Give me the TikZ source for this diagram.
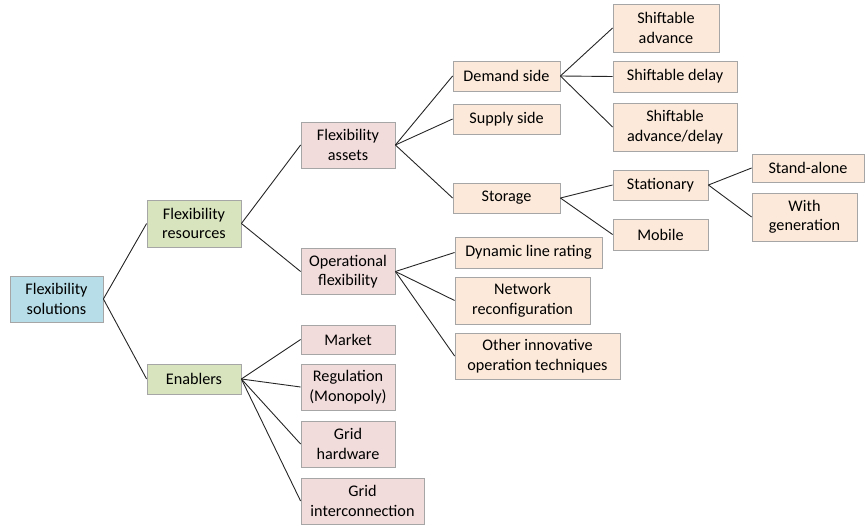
\documentclass[tikz,border=0pt]{standalone}
\usepackage{fontspec}
\setmainfont{Carlito}
\definecolor{solblue}{HTML}{B7DEE8}
\definecolor{resgreen}{HTML}{D7E4BD}
\definecolor{asspink}{HTML}{F2DCDB}
\definecolor{leafpeach}{HTML}{FCE9D9}
\definecolor{edgegrey}{HTML}{A6A6A6}
\begin{document}
\begin{tikzpicture}[x=1pt,y=-1pt,
  box/.style={draw=edgegrey,line width=0.8pt,align=center,inner sep=0pt,
    font=\fontsize{16.2}{19.5}\selectfont},
  link/.style={draw=black!85,line width=0.9pt}]
\useasboundingbox (0,0) rectangle (865,527);
% root and first level
\node[box,fill=solblue,minimum width=93,minimum height=46] (sol) at (56.5,299) {Flexibility\\solutions};
\node[box,fill=resgreen,minimum width=94,minimum height=47] (res) at (194,223.5) {Flexibility\\resources};
\node[box,fill=resgreen,minimum width=94,minimum height=30] (ena) at (194,379) {Enablers};
% second level
\node[box,fill=asspink,minimum width=94,minimum height=46] (ass) at (348,145) {Flexibility\\assets};
\node[box,fill=asspink,minimum width=94,minimum height=46] (ope) at (348,271.5) {Operational\\flexibility};
\node[box,fill=asspink,minimum width=94,minimum height=29] (mar) at (348,339.5) {Market};
\node[box,fill=asspink,minimum width=94,minimum height=46] (reg) at (348,387) {Regulation\\(Monopoly)};
\node[box,fill=asspink,minimum width=94,minimum height=46] (gha) at (348,444) {Grid\\hardware};
\node[box,fill=asspink,minimum width=123,minimum height=46] (gin) at (362.5,501) {Grid\\interconnection};
% third level
\node[box,fill=leafpeach,minimum width=107,minimum height=30] (dem) at (506.5,76) {Demand side};
\node[box,fill=leafpeach,minimum width=107,minimum height=30] (sup) at (506.5,119) {Supply side};
\node[box,fill=leafpeach,minimum width=107,minimum height=30] (sto) at (506.5,198) {Storage};
\node[box,fill=leafpeach,minimum width=147,minimum height=31] (dlr) at (528.5,252.5) {Dynamic line rating};
\node[box,fill=leafpeach,minimum width=135,minimum height=47] (net) at (522.5,300.5) {Network\\reconfiguration};
\node[box,fill=leafpeach,minimum width=165,minimum height=46] (oth) at (537.5,356) {Other innovative\\operation techniques};
% fourth level
\node[box,fill=leafpeach,minimum width=106,minimum height=48] (sa) at (666,28) {Shiftable\\advance};
\node[box,fill=leafpeach,minimum width=124,minimum height=31] (sd) at (675,76.5) {Shiftable delay};
\node[box,fill=leafpeach,minimum width=124,minimum height=48] (sad) at (675,127) {Shiftable\\advance/delay};
\node[box,fill=leafpeach,minimum width=95,minimum height=30] (sta) at (660.5,185) {Stationary};
\node[box,fill=leafpeach,minimum width=95,minimum height=31] (mob) at (660.5,234.5) {Mobile};
\node[box,fill=leafpeach,minimum width=112,minimum height=28] (stn) at (808,168) {Stand-alone};
\node[box,fill=leafpeach,minimum width=105,minimum height=48] (wg) at (804.5,217) {With\\generation};
% links
\foreach \a/\b in {sol/res,sol/ena,res/ass,res/ope,ena/mar,ena/reg,ena/gha,ena/gin,
  ass/dem,ass/sup,ass/sto,ope/dlr,ope/net,ope/oth,dem/sa,dem/sd,dem/sad,
  sto/sta,sto/mob,sta/stn,sta/wg}
  \draw[link] (\a.east) -- (\b.west);
\end{tikzpicture}
\end{document}
